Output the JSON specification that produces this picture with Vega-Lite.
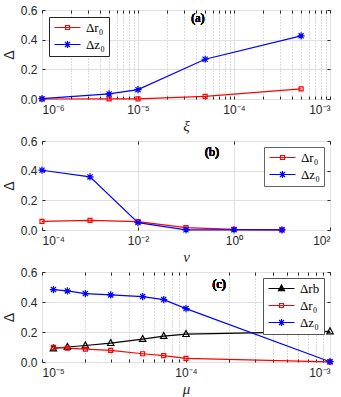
{
  "$schema": "https://vega.github.io/schema/vega-lite/v6.json",
  "padding": {"left": 1, "top": 3, "right": 5, "bottom": 0},
  "spacing": 42,
  "bounds": "flush",
  "resolve": {"scale": {"color": "independent", "x": "independent", "y": "independent"}, "legend": {"color": "independent"}},
  "config": {
    "view": {"stroke": "#262626", "strokeWidth": 1},
    "axis": {
      "domain": false,
      "labelFont": "Liberation Sans",
      "labelFontSize": 12,
      "labelColor": "#262626",
      "tickColor": "#262626",
      "tickSize": -3,
      "labelPadding": 8,
      "gridColor": "#e0e0e0",
      "titleFont": "Liberation Serif",
      "titleFontStyle": "italic",
      "titleFontWeight": "normal",
      "titleFontSize": 15,
      "titleColor": "#262626"
    },
    "legend": {
      "title": null,
      "fillColor": "white",
      "strokeColor": "#444444",
      "padding": 4,
      "labelFont": "Liberation Serif",
      "labelFontSize": 13,
      "labelColor": "#000000",
      "symbolSize": 100,
      "symbolStrokeWidth": 1.2,
      "rowPadding": 3,
      "labelOffset": 20,
      "offset": 7
    }
  },
  "vconcat": [
    {
      "width": 288,
      "height": 89,
      "data": {"values": [
        {"x": 1e-6, "s": "Δr₀", "y": 0.0},
        {"x": 5e-6, "s": "Δr₀", "y": 0.001},
        {"x": 1e-5, "s": "Δr₀", "y": 0.001},
        {"x": 5e-5, "s": "Δr₀", "y": 0.018},
        {"x": 5e-4, "s": "Δr₀", "y": 0.068},
        {"x": 1e-6, "s": "Δz₀", "y": 0.002},
        {"x": 5e-6, "s": "Δz₀", "y": 0.034},
        {"x": 1e-5, "s": "Δz₀", "y": 0.063},
        {"x": 5e-5, "s": "Δz₀", "y": 0.268},
        {"x": 5e-4, "s": "Δz₀", "y": 0.426}
      ]},
      "resolve": {"axis": {"x": "independent", "y": "independent"}},
      "layer": [
        {
          "mark": {"type": "line", "strokeWidth": 1.2},
          "encoding": {
            "x": {"field": "x", "type": "quantitative",
              "scale": {"type": "log", "domain": [1e-6, 1e-3], "nice": false},
              "axis": {
                "values": [1e-6,2e-6,3e-6,4e-6,5e-6,6e-6,7e-6,8e-6,9e-6,1e-5,2e-5,3e-5,4e-5,5e-5,6e-5,7e-5,8e-5,9e-5,1e-4,2e-4,3e-4,4e-4,5e-4,6e-4,7e-4,8e-4,9e-4,1e-3],
                "labelExpr": "abs(log(datum.value)/LN10-round(log(datum.value)/LN10))>0.01 ? '' : ['10⁻⁶','10⁻⁵','10⁻⁴','10⁻³'][round(log(datum.value)/LN10)+6]",
                "grid": true,
                "gridDash": {"condition": {"test": "abs(log(datum.value)/LN10-round(log(datum.value)/LN10))>0.01", "value": [1, 2]}, "value": []},
                "gridColor": {"condition": {"test": "abs(log(datum.value)/LN10-round(log(datum.value)/LN10))>0.01", "value": "#b8b8b8"}, "value": "#e0e0e0"},
                "title": "ξ", "titlePadding": 3
              }},
            "y": {"field": "y", "type": "quantitative",
              "scale": {"domain": [0, 0.6], "nice": false},
              "axis": {"values": [0, 0.2, 0.4, 0.6], "grid": true, "title": "Δ", "titleFont": "Liberation Sans", "titleFontStyle": "normal", "titleFontSize": 14, "titlePadding": 4}},
            "color": {"field": "s", "type": "nominal",
              "scale": {"domain": ["Δr₀", "Δz₀"], "range": ["#ff0000", "#0000ff"]},
              "legend": {"orient": "top-left", "strokeColor": "#262626",
                "encode": {"symbols": {"update": {
                  "shape": {"signal": "datum.value === 'Δr₀' ? 'M-1,0H4.2M1.2,-0.4H2V0.4H1.2Z' : datum.value === 'Δz₀' ? 'M-1,0H4.2M0.9,0H2.3M1.6,-0.7V0.7M1.1,-0.5L2.1,0.5M1.1,0.5L2.1,-0.5' : 'M-1,0H4.2M1.6,-0.7L2.2,0.45H1L1.6,-0.7Z'"}
                }}}}}
          }
        },
        {
          "transform": [{"filter": "datum.s === 'Δr₀'"}],
          "mark": {"type": "point", "filled": false, "strokeWidth": 1.2, "opacity": 1, "size": 64, "color": "#ff0000", "shape": "M-0.5,-0.5H0.5V0.5H-0.5Z"},
          "encoding": {
            "x": {"field": "x", "type": "quantitative",
              "axis": {"orient": "top", "values": [1e-6,2e-6,3e-6,4e-6,5e-6,6e-6,7e-6,8e-6,9e-6,1e-5,2e-5,3e-5,4e-5,5e-5,6e-5,7e-5,8e-5,9e-5,1e-4,2e-4,3e-4,4e-4,5e-4,6e-4,7e-4,8e-4,9e-4,1e-3], "labels": false, "grid": false, "title": null}},
            "y": {"field": "y", "type": "quantitative",
              "axis": {"orient": "right", "values": [0, 0.2, 0.4, 0.6], "labels": false, "grid": false, "title": null}}
          }
        },
        {
          "transform": [{"filter": "datum.s === 'Δz₀'"}],
          "mark": {"type": "point", "filled": false, "strokeWidth": 1.2, "opacity": 1, "size": 64, "color": "#0000ff", "shape": "M-0.9,0H0.9M0,-0.9V0.9M-0.64,-0.64L0.64,0.64M-0.64,0.64L0.64,-0.64"},
          "encoding": {
            "x": {"field": "x", "type": "quantitative", "axis": null},
            "y": {"field": "y", "type": "quantitative", "axis": null}
          }
        },
        {
          "mark": {"type": "text", "font": "Liberation Serif", "fontSize": 12, "fontWeight": "normal", "color": "#000000"},
          "encoding": {
            "x": {"datum": 4.2e-5, "type": "quantitative", "axis": null},
            "y": {"datum": 0.548, "type": "quantitative", "axis": null},
            "text": {"value": "(a)"}
          }
        }
      ]
    },
    {
      "width": 288,
      "height": 89,
      "data": {"values": [
        {"x": 1e-4, "s": "Δr₀", "y": 0.058},
        {"x": 1e-3, "s": "Δr₀", "y": 0.065},
        {"x": 1e-2, "s": "Δr₀", "y": 0.056},
        {"x": 1e-1, "s": "Δr₀", "y": 0.016},
        {"x": 1, "s": "Δr₀", "y": 0.004},
        {"x": 10, "s": "Δr₀", "y": 0.001},
        {"x": 1e-4, "s": "Δz₀", "y": 0.403},
        {"x": 1e-3, "s": "Δz₀", "y": 0.358},
        {"x": 1e-2, "s": "Δz₀", "y": 0.05},
        {"x": 1e-1, "s": "Δz₀", "y": 0.001},
        {"x": 1, "s": "Δz₀", "y": 0.001},
        {"x": 10, "s": "Δz₀", "y": 0.001}
      ]},
      "resolve": {"axis": {"x": "independent", "y": "independent"}},
      "layer": [
        {
          "mark": {"type": "line", "strokeWidth": 1.2},
          "encoding": {
            "x": {"field": "x", "type": "quantitative",
              "scale": {"type": "log", "domain": [1e-4, 100], "nice": false},
              "axis": {
                "values": [1e-4, 1e-2, 1, 100],
                "labelExpr": "['10⁻⁴','','10⁻²','','10⁰','','10²'][round(log(datum.value)/LN10)+4]",
                "grid": true,
                "title": "ν", "titlePadding": 3
              }},
            "y": {"field": "y", "type": "quantitative",
              "scale": {"domain": [0, 0.6], "nice": false},
              "axis": {"values": [0, 0.2, 0.4, 0.6], "grid": true, "title": "Δ", "titleFont": "Liberation Sans", "titleFontStyle": "normal", "titleFontSize": 14, "titlePadding": 4}},
            "color": {"field": "s", "type": "nominal",
              "scale": {"domain": ["Δr₀", "Δz₀"], "range": ["#ff0000", "#0000ff"]},
              "legend": {"orient": "top-right", "strokeColor": "#666666", "offset": 6,
                "encode": {"symbols": {"update": {
                  "shape": {"signal": "datum.value === 'Δr₀' ? 'M-1,0H4.2M1.2,-0.4H2V0.4H1.2Z' : datum.value === 'Δz₀' ? 'M-1,0H4.2M0.9,0H2.3M1.6,-0.7V0.7M1.1,-0.5L2.1,0.5M1.1,0.5L2.1,-0.5' : 'M-1,0H4.2M1.6,-0.7L2.2,0.45H1L1.6,-0.7Z'"}
                }}}}}
          }
        },
        {
          "transform": [{"filter": "datum.s === 'Δr₀'"}],
          "mark": {"type": "point", "filled": false, "strokeWidth": 1.2, "opacity": 1, "size": 64, "color": "#ff0000", "shape": "M-0.5,-0.5H0.5V0.5H-0.5Z"},
          "encoding": {
            "x": {"field": "x", "type": "quantitative",
              "axis": {"orient": "top", "values": [1e-4, 1e-2, 1, 100], "labels": false, "grid": false, "title": null}},
            "y": {"field": "y", "type": "quantitative",
              "axis": {"orient": "right", "values": [0, 0.2, 0.4, 0.6], "labels": false, "grid": false, "title": null}}
          }
        },
        {
          "transform": [{"filter": "datum.s === 'Δz₀'"}],
          "mark": {"type": "point", "filled": false, "strokeWidth": 1.2, "opacity": 1, "size": 64, "color": "#0000ff", "shape": "M-0.9,0H0.9M0,-0.9V0.9M-0.64,-0.64L0.64,0.64M-0.64,0.64L0.64,-0.64"},
          "encoding": {
            "x": {"field": "x", "type": "quantitative", "axis": null},
            "y": {"field": "y", "type": "quantitative", "axis": null}
          }
        },
        {
          "mark": {"type": "text", "font": "Liberation Serif", "fontSize": 12, "fontWeight": "normal", "color": "#000000"},
          "encoding": {
            "x": {"datum": 0.35, "type": "quantitative", "axis": null},
            "y": {"datum": 0.527, "type": "quantitative", "axis": null},
            "text": {"value": "(b)"}
          }
        }
      ]
    },
    {
      "width": 288,
      "height": 90,
      "data": {"values": [
        {"x": 1.2e-5, "s": "Δrb", "y": 0.09},
        {"x": 1.5e-5, "s": "Δrb", "y": 0.10},
        {"x": 2e-5, "s": "Δrb", "y": 0.11},
        {"x": 3e-5, "s": "Δrb", "y": 0.126},
        {"x": 5e-5, "s": "Δrb", "y": 0.153},
        {"x": 7e-5, "s": "Δrb", "y": 0.173},
        {"x": 1e-4, "s": "Δrb", "y": 0.186},
        {"x": 1e-3, "s": "Δrb", "y": 0.204},
        {"x": 1.2e-5, "s": "Δr₀", "y": 0.098},
        {"x": 1.5e-5, "s": "Δr₀", "y": 0.092},
        {"x": 2e-5, "s": "Δr₀", "y": 0.086},
        {"x": 3e-5, "s": "Δr₀", "y": 0.077},
        {"x": 5e-5, "s": "Δr₀", "y": 0.055},
        {"x": 7e-5, "s": "Δr₀", "y": 0.042},
        {"x": 1e-4, "s": "Δr₀", "y": 0.024},
        {"x": 1e-3, "s": "Δr₀", "y": 0.001},
        {"x": 1.2e-5, "s": "Δz₀", "y": 0.483},
        {"x": 1.5e-5, "s": "Δz₀", "y": 0.474},
        {"x": 2e-5, "s": "Δz₀", "y": 0.456},
        {"x": 3e-5, "s": "Δz₀", "y": 0.447},
        {"x": 5e-5, "s": "Δz₀", "y": 0.436},
        {"x": 7e-5, "s": "Δz₀", "y": 0.416},
        {"x": 1e-4, "s": "Δz₀", "y": 0.356},
        {"x": 1e-3, "s": "Δz₀", "y": 0.002}
      ]},
      "resolve": {"axis": {"x": "independent", "y": "independent"}},
      "layer": [
        {
          "mark": {"type": "line", "strokeWidth": 1.2},
          "encoding": {
            "x": {"field": "x", "type": "quantitative",
              "scale": {"type": "log", "domain": [1e-5, 1e-3], "nice": false},
              "axis": {
                "values": [1e-5,2e-5,3e-5,4e-5,5e-5,6e-5,7e-5,8e-5,9e-5,1e-4,2e-4,3e-4,4e-4,5e-4,6e-4,7e-4,8e-4,9e-4,1e-3],
                "labelExpr": "abs(log(datum.value)/LN10-round(log(datum.value)/LN10))>0.01 ? '' : ['10⁻⁵','10⁻⁴','10⁻³'][round(log(datum.value)/LN10)+5]",
                "grid": true,
                "gridDash": {"condition": {"test": "abs(log(datum.value)/LN10-round(log(datum.value)/LN10))>0.01", "value": [1, 2]}, "value": []},
                "gridColor": {"condition": {"test": "abs(log(datum.value)/LN10-round(log(datum.value)/LN10))>0.01", "value": "#b8b8b8"}, "value": "#e0e0e0"},
                "title": "μ", "titlePadding": 3
              }},
            "y": {"field": "y", "type": "quantitative",
              "scale": {"domain": [0, 0.6], "nice": false},
              "axis": {"values": [0, 0.2, 0.4, 0.6], "grid": true, "title": "Δ", "titleFont": "Liberation Sans", "titleFontStyle": "normal", "titleFontSize": 14, "titlePadding": 4}},
            "color": {"field": "s", "type": "nominal",
              "scale": {"domain": ["Δrb", "Δr₀", "Δz₀"], "range": ["#000000", "#ff0000", "#0000ff"]},
              "legend": {"orient": "top-right", "strokeColor": "#555555", "offset": 6,
                "encode": {"symbols": {"update": {
                  "shape": {"signal": "datum.value === 'Δr₀' ? 'M-1,0H4.2M1.2,-0.4H2V0.4H1.2Z' : datum.value === 'Δz₀' ? 'M-1,0H4.2M0.9,0H2.3M1.6,-0.7V0.7M1.1,-0.5L2.1,0.5M1.1,0.5L2.1,-0.5' : 'M-1,0H4.2M1.6,-0.7L2.2,0.45H1L1.6,-0.7Z'"},
                  "fill": {"signal": "datum.value === 'Δrb' ? '#000000' : 'transparent'"}
                }}}}}
          }
        },
        {
          "transform": [{"filter": "datum.s === 'Δrb'"}],
          "mark": {"type": "point", "filled": false, "strokeWidth": 1.2, "opacity": 1, "size": 64, "color": "#000000", "shape": "M0,-0.9L0.8,0.6H-0.8Z"},
          "encoding": {
            "x": {"field": "x", "type": "quantitative",
              "axis": {"orient": "top", "values": [1e-5,2e-5,3e-5,4e-5,5e-5,6e-5,7e-5,8e-5,9e-5,1e-4,2e-4,3e-4,4e-4,5e-4,6e-4,7e-4,8e-4,9e-4,1e-3], "labels": false, "grid": false, "title": null}},
            "y": {"field": "y", "type": "quantitative",
              "axis": {"orient": "right", "values": [0, 0.2, 0.4, 0.6], "labels": false, "grid": false, "title": null}}
          }
        },
        {
          "transform": [{"filter": "datum.s === 'Δr₀'"}],
          "mark": {"type": "point", "filled": false, "strokeWidth": 1.2, "opacity": 1, "size": 64, "color": "#ff0000", "shape": "M-0.5,-0.5H0.5V0.5H-0.5Z"},
          "encoding": {
            "x": {"field": "x", "type": "quantitative", "axis": null},
            "y": {"field": "y", "type": "quantitative", "axis": null}
          }
        },
        {
          "transform": [{"filter": "datum.s === 'Δz₀'"}],
          "mark": {"type": "point", "filled": false, "strokeWidth": 1.2, "opacity": 1, "size": 64, "color": "#0000ff", "shape": "M-0.9,0H0.9M0,-0.9V0.9M-0.64,-0.64L0.64,0.64M-0.64,0.64L0.64,-0.64"},
          "encoding": {
            "x": {"field": "x", "type": "quantitative", "axis": null},
            "y": {"field": "y", "type": "quantitative", "axis": null}
          }
        },
        {
          "mark": {"type": "text", "font": "Liberation Serif", "fontSize": 12, "fontWeight": "normal", "color": "#000000"},
          "encoding": {
            "x": {"datum": 1.7e-4, "type": "quantitative", "axis": null},
            "y": {"datum": 0.52, "type": "quantitative", "axis": null},
            "text": {"value": "(c)"}
          }
        }
      ]
    }
  ]
}
